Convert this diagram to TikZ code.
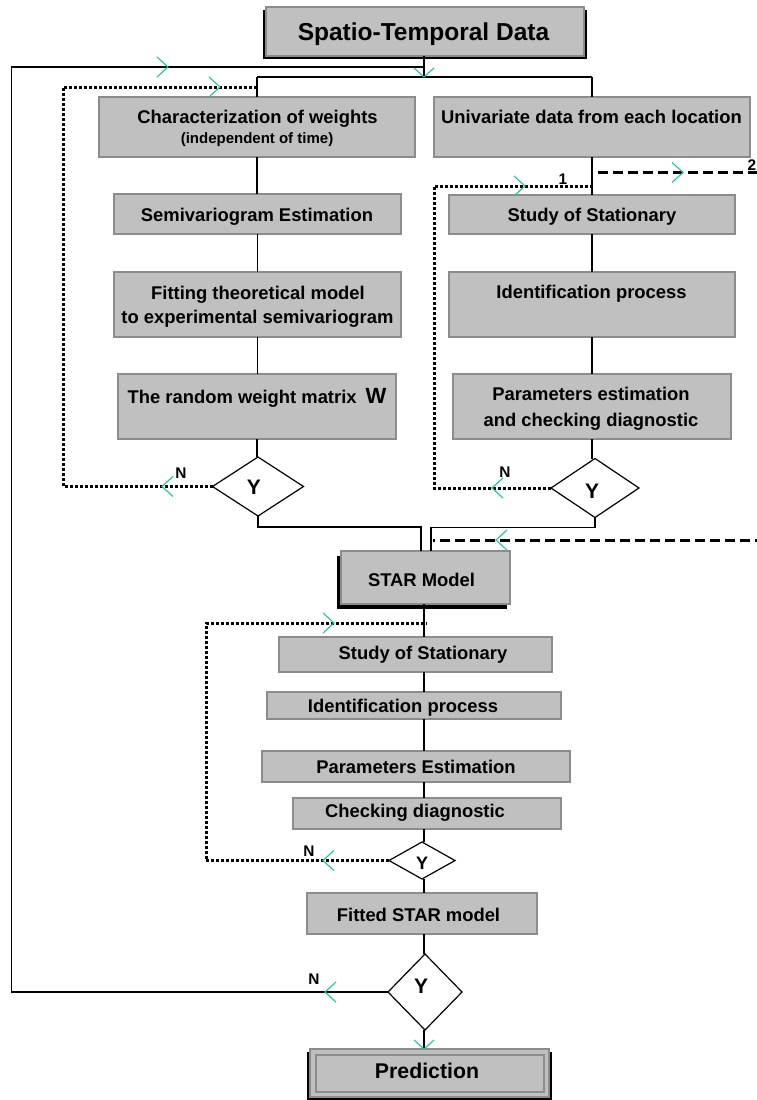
\documentclass[tikz,border=0pt]{standalone}
\usepackage{fontspec}
\setmainfont{Liberation Sans}
\usetikzlibrary{shapes.geometric}
\definecolor{boxfill}{RGB}{192,192,192}
\definecolor{boxline}{RGB}{140,140,140}
\definecolor{chevcol}{RGB}{25,200,150}
\begin{document}
\begin{tikzpicture}[x=1pt,y=-1pt,
  box/.style={draw=boxline, fill=boxfill, line width=1.2pt, inner sep=0pt, outer sep=0pt},
  dia/.style={diamond, draw=black, line width=1.2pt, fill=white, inner sep=0pt, outer sep=0pt},
  conn/.style={draw=black, line width=1.2pt},
  dotline/.style={draw=black, line width=3pt, dash pattern=on 3pt off 2pt},
  dashline/.style={draw=black, line width=3pt, dash pattern=on 10pt off 5pt},
  t18/.style={inner sep=0pt, text depth=0pt, text height=13.2pt, font=\bfseries\fontsize{18.4}{22}\selectfont},
  t15/.style={inner sep=0pt, text depth=0pt, text height=10.7pt, font=\bfseries\fontsize{15}{18}\selectfont},
  ttitle/.style={inner sep=0pt, text depth=0pt, text height=17.5pt, font=\bfseries\fontsize{24.5}{28}\selectfont},
  tpred/.style={inner sep=0pt, text depth=0pt, text height=15.3pt, font=\bfseries\fontsize{21.3}{25}\selectfont},
  ty/.style={inner sep=0pt, text depth=0pt, text height=15pt, font=\bfseries\fontsize{21}{24}\selectfont},
  tysmall/.style={inner sep=0pt, text depth=0pt, text height=12.9pt, font=\bfseries\fontsize{18}{21}\selectfont},
  lab/.style={inner sep=0pt, text depth=0pt, text height=11pt, font=\bfseries\fontsize{15.4}{18}\selectfont},
  chevR/.pic={\draw[chevcol, line width=1.1pt] (-11,-10) -- (0,0) -- (-11,10);},
  chevL/.pic={\draw[chevcol, line width=1.1pt] (11,-10) -- (0,0) -- (11,10);},
  chevD/.pic={\draw[chevcol, line width=1.1pt] (-10,-9) -- (0,0) -- (10,-9);}
]
\useasboundingbox (0,0) rectangle (757,1100);
\fill[white] (0,0) rectangle (757,1100);

% ---------- boxes ----------
\fill[black] (263,10) rectangle (587,59);
\node[box, minimum width=318pt, minimum height=49pt] (title) at (425,31.5) {};
\node[ttitle] (titleT) at (423.5,32) {Spatio-Temporal Data};

\node[box, minimum width=316pt, minimum height=60pt] (char) at (257,127) {};
\node[t18] (charA) at (257.5,117) {Characterization of weights};
\node[t15] (charB) at (257,138.5) {(independent of time)};

\node[box, minimum width=316pt, minimum height=60pt] (univ) at (592,127) {};
\node[t18] (univT) at (591.5,117) {Univariate data from each location};

\node[box, minimum width=287pt, minimum height=40pt] (semi) at (257.5,214) {};
\node[t18] (semiT) at (257,214.5) {Semivariogram Estimation};

\node[box, minimum width=287pt, minimum height=65pt] (fit) at (257.5,304.5) {};
\node[t18] (fitA) at (258,293) {Fitting theoretical model};
\node[t18] (fitB) at (257.5,317) {to experimental semivariogram};

\node[box, minimum width=278pt, minimum height=65pt] (rw) at (257,406.5) {};
\node[t18] (rwT) at (257,396.5) {The random weight matrix\hspace{9pt}{\fontsize{22}{22}\selectfont W}};

\node[box, minimum width=286pt, minimum height=39pt] (sA) at (592,214.5) {};
\node[t18] (sAT) at (592,214.5) {Study of Stationary};

\node[box, minimum width=286pt, minimum height=65pt] (iA) at (592,304.5) {};
\node[t18] (iAT) at (591.5,291.5) {Identification process};

\node[box, minimum width=278pt, minimum height=65pt] (pA) at (592,406.5) {};
\node[t18] (pAT1) at (591,394) {Parameters estimation};
\node[t18] (pAT2) at (591,419.5) {and checking diagnostic};

\node[dia, minimum width=91pt, minimum height=59pt] (ldia) at (258,486.5) {};
\node[ty] (ldiaY) at (254,487) {Y};
\node[lab] (ldiaN) at (181,472.5) {N};

\node[dia, minimum width=88pt, minimum height=59pt] (rdia) at (595,488) {};
\node[ty] (rdiaY) at (592,490.5) {Y};
\node[lab] (rdiaN) at (505,472) {N};

\fill[black] (337,556) rectangle (507,609);
\node[box, minimum width=169pt, minimum height=53pt] (star) at (425.5,577.5) {};
\node[t18] (starT) at (421.5,580) {STAR Model};

\node[box, minimum width=273pt, minimum height=35pt] (sB) at (415.5,654.5) {};
\node[t18] (sBT) at (423,652.5) {Study of Stationary};

\node[box, minimum width=294pt, minimum height=27pt] (iB) at (414,705.5) {};
\node[t18] (iBT) at (403,706) {Identification process};

\node[box, minimum width=308pt, minimum height=31pt] (pB) at (416,766.5) {};
\node[t18] (pBT) at (416,766.5) {Parameters Estimation};

\node[box, minimum width=268pt, minimum height=31pt] (cB) at (427,813.5) {};
\node[t18] (cBT) at (415,810.5) {Checking diagnostic};

\node[dia, minimum width=66pt, minimum height=37pt] (sdia) at (422,860.5) {};
\node[tysmall] (sdiaY) at (422,863) {Y};
\node[lab] (sdiaN) at (309,850.5) {N};

\node[box, minimum width=230pt, minimum height=41pt] (fitted) at (422,913.5) {};
\node[t18] (fittedT) at (418.5,915) {Fitted STAR model};

\node[dia, minimum width=74pt, minimum height=76pt] (bdia) at (425,992) {};
\node[ty] (bdiaY) at (421,985.5) {Y};
\node[lab] (bdiaN) at (314,979) {N};

\fill[black] (307,1052) rectangle (552,1100);
\node[box, minimum width=239pt, minimum height=48pt] (pred) at (429.5,1073) {};
\draw[boxline, line width=1.6pt] (316,1055) rectangle (544,1092);
\node[tpred] (predT) at (427,1071) {Prediction};

\node[lab] (one) at (563,179) {1};
\node[lab, anchor=east] (two) at (756.5,164.5) {2};

% ---------- solid connectors ----------
\coordinate (jT) at (424,77);
\coordinate (jL) at (257,77);
\coordinate (jR) at (592,77);
\coordinate (colC) at (424,0);
\draw[conn] (jT |- title.south) -- (jT);
\draw[conn] (jL) -- (jR);
\draw[conn] (jL) -- (jL |- char.north);
\draw[conn] (jR) -- (jR |- univ.north);
\draw[conn] (char.south) -- (char.south |- semi.north);
\draw[conn] (semi.south) -- (semi.south |- fit.north);
\draw[conn] (fit.south) -- (fit.south |- rw.north);
\draw[conn] (rw.south) -- (rw.south |- ldia.north);
\draw[conn] (univ.south) -- (univ.south |- sA.north);
\draw[conn] (sA.south) -- (sA.south |- iA.north);
\draw[conn] (iA.south) -- (iA.south |- pA.north);
\draw[conn] (pA.south) -- (pA.south |- rdia.north);
\draw[conn] (ldia.south) -- ++(0,11) -| ([xshift=-4.5pt]star.north);
\draw[conn] (rdia.south) -- ++(0,10) -| ([xshift=5.5pt]star.north);
\draw[conn] (colC |- star.south) -- (colC |- sB.north);
\draw[conn] (colC |- sB.south) -- (colC |- iB.north);
\draw[conn] (colC |- iB.south) -- (colC |- pB.north);
\draw[conn] (colC |- pB.south) -- (colC |- cB.north);
\draw[conn] (colC |- cB.south) -- (colC |- sdia.north);
\draw[conn] (colC |- sdia.south) -- (colC |- fitted.north);
\draw[conn] (colC |- fitted.south) -- (colC |- bdia.north);
\draw[conn] (colC |- bdia.south) -- (colC |- pred.north);
% outer loop
\coordinate (oTop) at (424,67);
\draw[conn] (bdia.west) -| (11.5,67) -- (oTop);

% ---------- dotted loops ----------
\coordinate (lTop) at (257,87);
\draw[dotline] (ldia.west) -| (63,87) -- (lTop);
\coordinate (rTop) at (594,186);
\draw[dotline] (rdia.west) -| (434,186) -- (rTop);
\coordinate (bTop) at (427,623);
\draw[dotline] (sdia.west) -| (206,623) -- (bTop);

% ---------- dashed loop ----------
\coordinate (dS) at (598,172.5);
\coordinate (dE) at (433,540);
\draw[dashline] (dS) -- (775,172.5) -- (775,540) -- (dE);

% ---------- chevrons ----------
\pic at (168,67) {chevR};
\pic at (424,77) {chevD};
\pic at (220,87) {chevR};
\pic at (525,186) {chevR};
\pic at (683,172.5) {chevR};
\pic at (162,486.5) {chevL};
\pic at (492,488) {chevL};
\pic at (496,540) {chevL};
\pic at (334,623) {chevR};
\pic at (323,860.5) {chevL};
\pic at (325,992) {chevL};
\pic at (424,1049) {chevD};
\end{tikzpicture}
\end{document}
